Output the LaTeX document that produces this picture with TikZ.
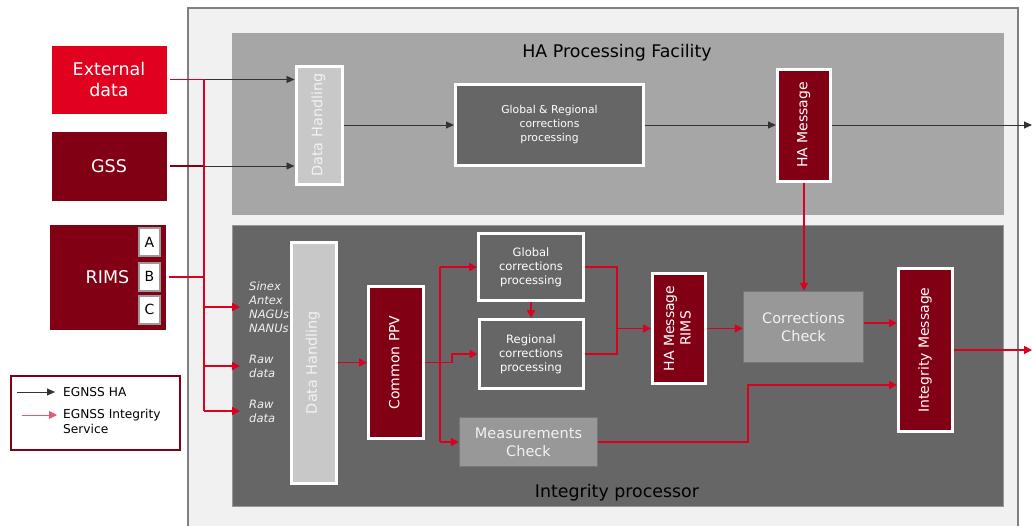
\documentclass[tikz,border=0pt]{standalone}
\usepackage{fontspec}
\setmainfont{DejaVu Sans}
\usepackage{graphicx}
\usepackage{tikz}
\usetikzlibrary{arrows.meta}
\usetikzlibrary{shadows}

\definecolor{egred}{HTML}{E1001E}
\definecolor{egdark}{HTML}{820014}
\definecolor{egline}{HTML}{DA0020}
\definecolor{egframe}{HTML}{F1F1F1}
\definecolor{egborder}{HTML}{808080}
\definecolor{egupper}{HTML}{A6A6A6}
\definecolor{eglower}{HTML}{666666}
\definecolor{egpale}{HTML}{C8C8C8}
\definecolor{egcheck}{HTML}{989898}
\definecolor{egedge}{HTML}{777777}
\definecolor{egsoft}{HTML}{F2F2F2}
\definecolor{egletter}{HTML}{9A9A9A}
\definecolor{egblack}{HTML}{333333}

\newcommand{\vtext}[1]{\rotatebox{90}{\begin{tabular}{@{}c@{}}#1\end{tabular}}}

\begin{document}
\begin{tikzpicture}
  [x=1pt,y=-1pt,
   every node/.style={inner sep=0pt,align=center,text=white},
   boxed/.style={draw=white,line width=3pt,drop shadow={opacity=.2,shadow xshift=1.2pt,shadow yshift=-1.2pt}},
   srcred/.style={boxed,fill=egred,font=\fontsize{17.5}{21}\selectfont},
   srcdark/.style={boxed,fill=egdark,font=\fontsize{17.5}{21}\selectfont},
   msgbox/.style={boxed,fill=egdark,font=\fontsize{14}{16.5}\selectfont},
   procbox/.style={boxed,fill=eglower,font=\fontsize{11.5}{14}\selectfont},
   handling/.style={boxed,fill=egpale,text=egsoft,font=\fontsize{14.4}{17}\selectfont},
   checkbox/.style={draw=egedge,line width=1.5pt,fill=egcheck,text=egsoft,font=\fontsize{14.5}{18}\selectfont},
   letter/.style={draw=egletter,line width=2pt,fill=white,text=black,minimum width=21,minimum height=28,font=\fontsize{14}{16}\selectfont},
   feed/.style={anchor=west,align=left,inner xsep=9pt,text=egsoft,font=\itshape\fontsize{11.5}{14}\selectfont},
   title/.style={anchor=base,text=black,font=\fontsize{17.4}{20}\selectfont},
   legtext/.style={anchor=west,align=left,text=black,font=\fontsize{12.2}{15}\selectfont},
   haline/.style={draw=egblack,line width=.9pt},
   harrow/.style={haline,-{Triangle[length=8pt,width=7pt]}},
   isline/.style={draw=egline,line width=1.6pt},
   isarrow/.style={isline,-{Triangle[length=8pt,width=8pt]}}]
  \useasboundingbox (0,0) rectangle (1032,525);
  \clip (0,0) rectangle (1032,525);

  \draw[fill=egframe,draw=egborder,line width=2pt] (188,8) rectangle (1018,540);
  \node[fill=egupper,minimum width=772,minimum height=182] (haFac) at (618,124) {};
  \node[fill=eglower,draw=egcheck,line width=.8pt,minimum width=771,minimum height=281] (ipFac) at (617.5,365.5) {};
  \node[title] (haTitle) at (617,57) {HA Processing Facility};
  \node[title] (ipTitle) at (617,497) {Integrity processor};

  \node[srcred,minimum width=118,minimum height=71] (ext) at (109,79.5) {External\\data};
  \node[srcdark,minimum width=118,minimum height=72] (gss) at (109,166) {GSS};
  \node[srcdark,minimum width=119,minimum height=108] (rims) at (107.5,277) {RIMS};
  \node[letter] (rimsA) at (149.5,242) {A};
  \node[letter] (rimsB) at (149.5,276.5) {B};
  \node[letter] (rimsC) at (149.5,309.5) {C};

  \node[draw=egdark,line width=2pt,fill=white,minimum width=169,minimum height=74] (legend) at (95.5,413) {};
  \coordinate (lgHA) at (17,392);
  \coordinate (lgIS) at (22,415);
  \draw[harrow] (lgHA) -- ++(38,0);
  \draw[isarrow,draw=egline!65,line width=1pt] (lgIS) -- ++(35,0);
  \node[legtext] (lgHAtxt) at (63,392) {EGNSS HA};
  \node[legtext] (lgIStxt) at (63,421) {EGNSS Integrity\\Service};

  \node[handling,minimum width=46,minimum height=118] (dhU) at (319,125) {\vtext{Data Handling}};
  \node[procbox,minimum width=188,minimum height=81,font=\fontsize{10.8}{14}\selectfont] (grU) at (549.5,125) {Global \& Regional\\corrections\\processing};
  \node[msgbox,minimum width=53,minimum height=112] (haU) at (804,125) {\vtext{HA Message}};

  \node[feed] (feedAux) at (240,307) {Sinex\\Antex\\NAGUs\\NANUs};
  \node[feed] (feedRawA) at (240,366) {Raw\\data};
  \node[feed] (feedRawB) at (240,411) {Raw\\data};

  \node[handling,minimum width=45,minimum height=241] (dhL) at (313.5,362.5) {\vtext{Data Handling}};
  \node[msgbox,minimum width=55,minimum height=152] (ppv) at (396,362.5) {\vtext{Common PPV}};
  \node[procbox,minimum width=105,minimum height=67] (glob) at (531,267) {Global\\corrections\\processing};
  \node[procbox,minimum width=104,minimum height=69] (reg) at (531,354) {Regional\\corrections\\processing};
  \node[checkbox,minimum width=138,minimum height=49] (meas) at (528.5,442) {Measurements\\Check};
  \node[msgbox,minimum width=53,minimum height=110] (haR) at (679,328.5) {\vtext{HA Message\\RIMS}};
  \node[checkbox,minimum width=120,minimum height=71] (corr) at (803.5,327) {Corrections\\Check};
  \node[msgbox,minimum width=54,minimum height=163] (integ) at (925.5,350) {\vtext{Integrity Message}};

  \coordinate (spine) at (204,79.5);
  \coordinate (fork) at (440,362.5);
  \coordinate (merge) at (617,328.5);
  \coordinate (mjoint) at (748,385);
  \coordinate (outHA) at (1032,125);
  \coordinate (outIS) at (1032,350);

  % HA flow
  \draw[harrow] (spine) -- (spine -| dhU.west);
  \draw[haline,draw=egdark,line width=1.3pt] (gss.east) -- (gss.east -| spine);
  \draw[harrow] (gss.east -| spine) -- (gss.east -| dhU.west);
  \foreach \from/\to in {dhU/grU,grU/haU,haU/outHA}
    \draw[harrow] (\from) -- (\to);

  % integrity flow
  \draw[isline] (ext.east) -- (spine) -- (spine |- feedRawB.west);
  \draw[isline] (rims.east) -- (rims.east -| spine);
  \foreach \to in {feedAux,feedRawA,feedRawB}
    \draw[isarrow] (spine |- \to.west) -- (\to.west);
  \draw[isarrow] (dhL) -- (ppv);
  \draw[isline] (ppv.east) -- (fork);
  \draw[isline] (fork |- glob.west) -- (fork |- meas.west);
  \draw[isarrow] (fork |- glob.west) -- (glob.west);
  \draw[isarrow] (fork |- meas.west) -- (meas.west);
  \draw[isarrow] (fork) -- ++(12,0) |- (reg.west);
  \draw[isarrow] (glob) -- (reg);
  \draw[isline] (glob.east) -| (merge);
  \draw[isline] (reg.east) -| (merge);
  \draw[isarrow] (merge) -- (haR.west);
  \draw[isarrow,line width=1.1pt] (haR.east) -- (haR.east -| corr.west);
  \draw[isarrow] (haU.south) -- (haU.south |- corr.north);
  \draw[isarrow,line width=1.1pt] ([yshift=4pt]corr.east) -- ([yshift=4pt]corr.east -| integ.west);
  \draw[isarrow] (meas.east) -| (mjoint) -- (mjoint -| integ.west);
  \draw[isarrow] (integ.east) -- (outIS);
\end{tikzpicture}
\end{document}
